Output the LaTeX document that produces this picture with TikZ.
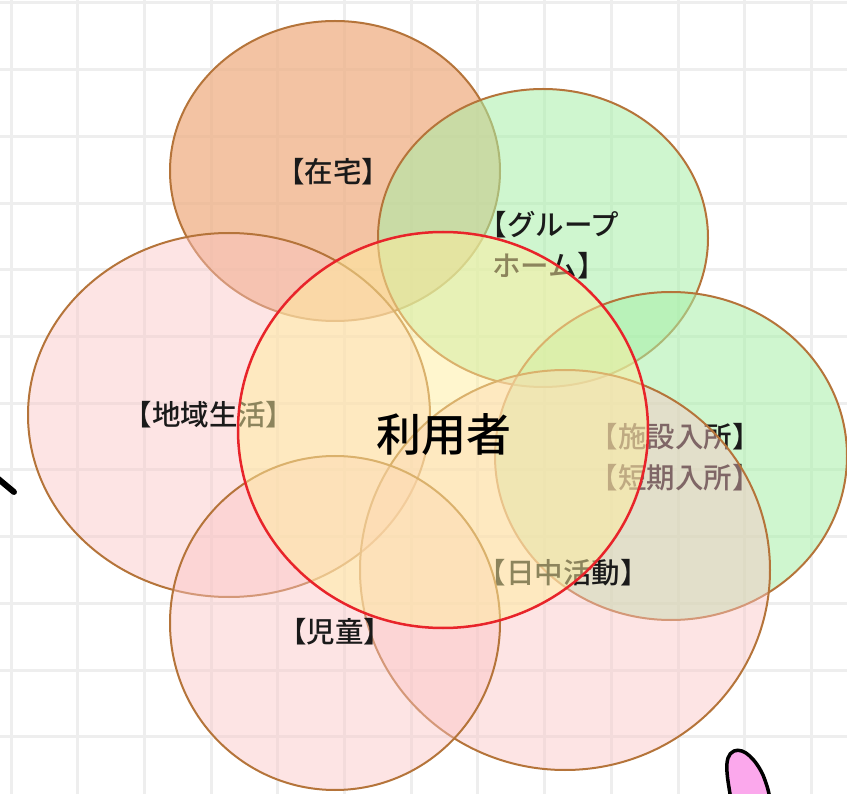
\documentclass[tikz,border=0pt]{standalone}
\usepackage{fontspec}
\newfontfamily\jpfont{Noto Sans CJK JP}[BoldFont={Noto Sans CJK JP Medium}]
\usepackage{tikz}
\usetikzlibrary{positioning}
\definecolor{gridgray}{HTML}{EEEEEE}
\definecolor{zoneedge}{HTML}{B5743A}
\definecolor{useredge}{HTML}{E8242A}
\definecolor{orangefill}{HTML}{EFB085}
\definecolor{greenfill}{HTML}{A8F0A8}
\definecolor{pinkfill}{HTML}{FBC4C4}
\definecolor{userfill}{HTML}{FFEE9E}
\definecolor{labeltext}{HTML}{1A1A1A}
\definecolor{blobpink}{HTML}{FBA8EC}

\begin{document}
\begin{tikzpicture}[x=1pt, y=-1pt,
    zone/.style={draw=zoneedge, line width=2pt},
    lbl/.style={font=\jpfont\bfseries\fontsize{28.5}{41}\selectfont, text=labeltext, align=center, inner sep=0pt}]
    \useasboundingbox (0,0) rectangle (847,794);
    \fill[white] (0,0) rectangle (847,794);

    % Grid
    \foreach \k in {0,...,12} {
        \draw[gridgray, line width=3pt] (11+66.7*\k,0) -- ++(0,794);
        \draw[gridgray, line width=3pt] (0,3+66.7*\k) -- ++(847,0);
    }

    % Zones
    \draw[zone, fill=orangefill, fill opacity=0.75] (335,171) ellipse (165 and 150);
    \node[lbl] (zaitaku) at (333,172) {【在宅】};

    \draw[zone, fill=greenfill, fill opacity=0.55] (543,238) ellipse (165 and 149);
    \node[lbl] (grouphome) at (549,245) {【グループ\\ホーム】};

    \draw[zone, fill=pinkfill, fill opacity=0.45] (229,415) ellipse (201 and 182);
    \node[lbl] (chiiki) at (209,415) {【地域生活】};

    \draw[zone, fill=greenfill, fill opacity=0.55] (671,456) ellipse (176 and 164);
    \node[lbl] (shisetsu) at (675,457) {【施設入所】\\【短期入所】};

    \draw[zone, fill=pinkfill, fill opacity=0.45] (565,570) ellipse (205 and 200);
    \node[lbl] (nicchu) at (563,573) {【日中活動】};

    \draw[zone, fill=pinkfill, fill opacity=0.45] (335,623) ellipse (165 and 167);
    \node[lbl] (jido) at (335,632) {【児童】};

    % User circle on top
    \draw[draw=useredge, line width=2.5pt, fill=userfill, fill opacity=0.5] (443,430) ellipse (205 and 198);
    \node[lbl, font=\jpfont\bfseries\fontsize{45}{50}\selectfont, text=black] (user) at (444,435) {利用者};

    % Cut-off marks at the edges
    \draw[black, line width=6pt, line cap=round] (-4,477) -- (14,492);
    \draw[black, line width=3.5pt, fill=blobpink]
        (731,800) .. controls (728,780) and (722,756) .. (734,751)
        .. controls (744,747) and (756,760) .. (763,775)
        .. controls (767,785) and (769,792) .. (770,800);
\end{tikzpicture}
\end{document}
